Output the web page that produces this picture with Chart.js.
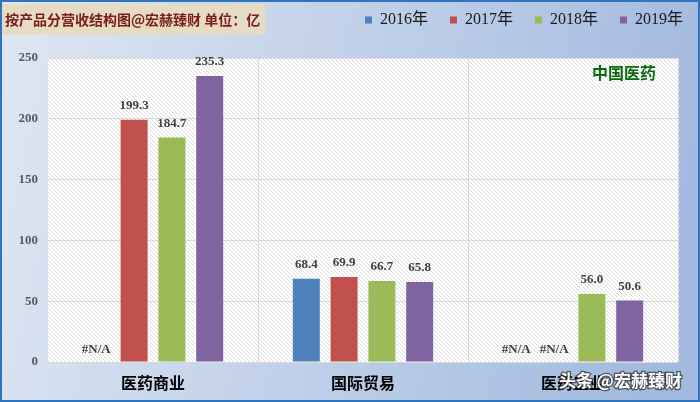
<!DOCTYPE html>
<html><head><meta charset="utf-8">
<script src="https://cdn.jsdelivr.net/npm/chart.js@4/dist/chart.umd.min.js"></script>
<style>html,body{margin:0;padding:0;background:#fff}#wrap{width:700px;height:402px;position:relative}</style>
</head><body><div id="wrap"><canvas id="c" width="700" height="402"></canvas></div>
<script>
const categories = ['医药商业', '国际贸易', '医药工业'];
const seriesNames = ['2016年', '2017年', '2018年', '2019年'];
const values2016 = [null, 68.4, null];
const values2017 = [199.3, 69.9, null];
const values2018 = [184.7, 66.7, 56.0];
const values2019 = [235.3, 65.8, 50.6];
const yTicks = [0, 50, 100, 150, 200, 250];
const seriesColors = ['#4f81bd', '#c0504d', '#9bbb59', '#8064a2'];
const titleText = '按产品分营收结构图@宏赫臻财 单位：亿';
const noteText = '中国医药';
const watermarkText = '头条 @宏赫臻财';

const CJK = '"Noto Sans CJK SC"';
const SERIF = '"Liberation Serif"';

// hatch pattern for plot area
const tile = document.createElement('canvas');
tile.width = 8; tile.height = 8;
(function(){
  const t = tile.getContext('2d');
  t.fillStyle = '#ffffff'; t.fillRect(0,0,8,8);
  t.strokeStyle = '#dcdcdc'; t.lineWidth = 1;
  t.beginPath();
  for (const c of [-8,-4,0,4,8]) { t.moveTo(0, c); t.lineTo(8, 8 + c); }
  t.stroke();
})();

const bgPlugin = {
  id: 'bg',
  beforeDraw(chart) {
    const {ctx, chartArea: a} = chart;
    const W = chart.width, H = chart.height;
    ctx.save();
    const g = ctx.createLinearGradient(0, 0, W, 160);
    g.addColorStop(0, '#dfe7f3');
    g.addColorStop(1, '#a2badf');
    ctx.fillStyle = g; ctx.fillRect(0, 0, W, H);
    ctx.fillStyle = '#e6dcc4'; ctx.fillRect(2, 4, 263, 31);
    ctx.font = 'bold 14px ' + CJK;
    ctx.fillStyle = '#7a1c1c'; ctx.textBaseline = 'middle'; ctx.textAlign = 'left';
    ctx.fillText(titleText, 5, 20);
    ctx.fillStyle = ctx.createPattern(tile, 'repeat');
    ctx.fillRect(a.left, a.top, a.width, a.height);
    ctx.restore();
  },
  afterDatasetsDraw(chart) {
    const {ctx, chartArea: a} = chart;
    const yScale = chart.scales.y, xScale = chart.scales.x;
    ctx.save();
    ctx.font = 'bold 13px ' + SERIF;
    ctx.fillStyle = '#404040';
    ctx.textAlign = 'center';
    ctx.textBaseline = 'middle';
    chart.data.datasets.forEach((ds, di) => {
      const meta = chart.getDatasetMeta(di);
      meta.data.forEach((bar, i) => {
        const v = ds.data[i];
        let x = bar.x;
        if (!isFinite(x)) {
          const cw = (xScale.right - xScale.left) / categories.length;
          x = xScale.getPixelForValue(i) + (di - 1.5) * cw * 0.72 / 4;
        }
        if (v == null) {
          ctx.fillText('#N/A', x, yScale.getPixelForValue(0) - 12);
        } else {
          ctx.fillText(v.toFixed(1), x, bar.y - 14);
        }
      });
    });
    ctx.font = 'bold 16px ' + CJK;
    ctx.fillStyle = '#0b6a0b';
    ctx.fillText(noteText, a.right - 54, a.top + 15);
    ctx.restore();
  },
  afterDraw(chart) {
    const ctx = chart.ctx;
    ctx.save();
    ctx.font = 'bold 17px ' + CJK;
    ctx.textAlign = 'left'; ctx.textBaseline = 'middle';
    ctx.lineWidth = 2.5; ctx.strokeStyle = 'rgba(40,40,40,0.7)';
    ctx.strokeText(watermarkText, 559, 381);
    ctx.fillStyle = '#ffffff';
    ctx.fillText(watermarkText, 559, 381);
    ctx.strokeStyle = '#2e74c1'; ctx.lineWidth = 2;
    ctx.strokeRect(1, 1, chart.width - 2, chart.height - 2);
    ctx.restore();
  }
};

const allSeries = [values2016, values2017, values2018, values2019];

new Chart(document.getElementById('c'), {
  type: 'bar',
  data: {
    labels: categories,
    datasets: allSeries.map((vals, i) => ({
      label: seriesNames[i],
      data: vals,
      backgroundColor: seriesColors[i],
      borderWidth: 0,
      categoryPercentage: 0.72,
      barPercentage: 0.714
    }))
  },
  options: {
    responsive: false,
    animation: false,
    devicePixelRatio: 1,
    layout: { padding: { top: -10, right: -5, bottom: 0, left: 0 } },
    plugins: {
      tooltip: { enabled: false },
      legend: {
        position: 'top',
        align: 'end',
        labels: {
          boxWidth: 7, boxHeight: 7, padding: 22,
          color: '#1a1a1a',
          font: { size: 16, family: SERIF + ', ' + CJK }
        }
      }
    },
    scales: {
      x: {
        grid: {
          drawTicks: false,
          color: (c) => (c.index === 0 || c.index === categories.length) ? 'rgba(0,0,0,0)' : '#d9d9d9'
        },
        border: { display: false },
        ticks: { padding: 11, color: '#000', font: { size: 16, weight: 'bold', family: CJK } },
        afterFit: (s) => { s.height = 40; }
      },
      x2: {
        type: 'category', position: 'top', display: true,
        grid: { display: false }, border: { display: false }, ticks: { display: false },
        afterFit: (s) => { s.height = 20; }
      },
      y: {
        min: 0, max: 250,
        afterBuildTicks: (s) => { s.ticks = yTicks.map(v => ({ value: v })); },
        grid: { drawTicks: false, color: '#d9d9d9' },
        border: { display: false },
        ticks: { padding: 10, color: '#595959', font: { size: 13, weight: 'bold', family: SERIF } },
        afterFit: (s) => { s.width = 48; }
      },
      y2: {
        type: 'linear', position: 'right', display: true,
        grid: { display: false }, border: { display: false }, ticks: { display: false },
        afterFit: (s) => { s.width = 27; }
      }
    }
  },
  plugins: [bgPlugin]
});
</script>
</body></html>
